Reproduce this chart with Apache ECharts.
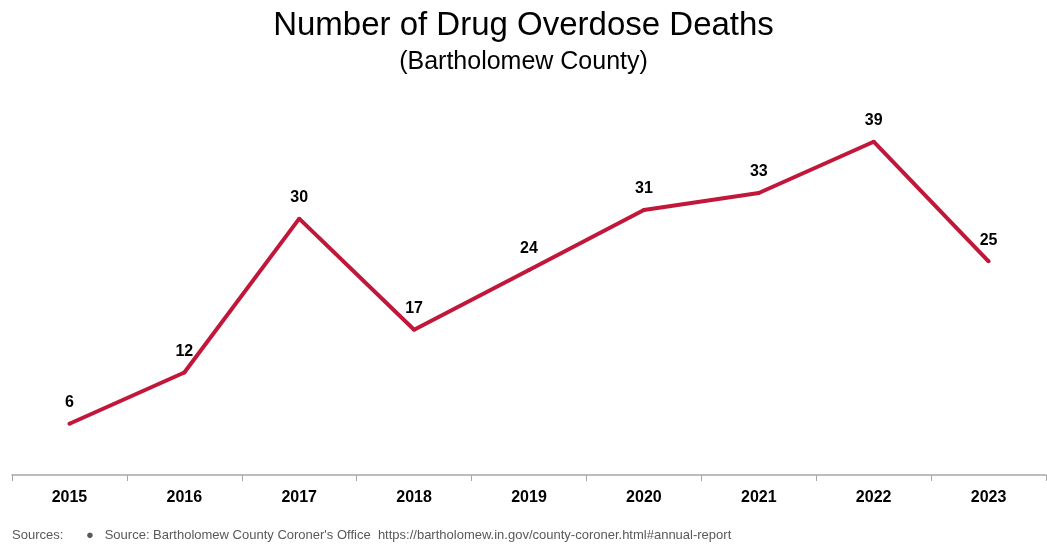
<!DOCTYPE html>
<html>
<head>
<meta charset="utf-8">
<script src="https://cdn.jsdelivr.net/npm/echarts@6/dist/echarts.min.js"></script>
<style>
  html, body { margin: 0; padding: 0; background: #fff; }
  #chart { width: 1047px; height: 548px; }
</style>
</head>
<body>
<div id="chart"></div>
<script>
  const years = ['2015', '2016', '2017', '2018', '2019', '2020', '2021', '2022', '2023'];
  const deaths = [6, 12, 30, 17, 24, 31, 33, 39, 25];

  const font = "'Liberation Sans Narrow', 'Arial Narrow', Arial, sans-serif";
  let chart = echarts.init(document.getElementById('chart'));
  let options = {
    animation: false,
    textStyle: { fontFamily: font },
    title: [
      {
        text: 'Number of Drug Overdose Deaths',
        left: 'center',
        top: 4,
        textStyle: { fontFamily: font, fontSize: 33, fontWeight: 'normal', color: '#000' }
      },
      {
        text: '(Bartholomew County)',
        left: 'center',
        top: 45,
        textStyle: { fontFamily: font, fontSize: 25, fontWeight: 'normal', color: '#000' }
      },
      {
        text: 'Sources:',
        left: 12,
        top: 529,
        padding: 0,
        textStyle: { fontFamily: font, fontSize: 13, fontWeight: 'normal', color: '#595959' }
      },
      {
        text: "●   Source: Bartholomew County Coroner's Office  https://bartholomew.in.gov/county-coroner.html#annual-report",
        left: 86,
        top: 529,
        padding: 0,
        textStyle: { fontFamily: font, fontSize: 13, fontWeight: 'normal', color: '#595959' }
      }
    ],
    grid: {
      left: 12,
      right: 1,
      top: 99,
      bottom: 73,
      containLabel: false
    },
    xAxis: {
      type: 'category',
      data: years,
      boundaryGap: true,
      axisLine: { lineStyle: { color: '#a6a6a6', width: 1.5 } },
      axisTick: { show: true, alignWithLabel: false, length: 6, lineStyle: { color: '#a6a6a6' } },
      axisLabel: { color: '#000', fontWeight: 'bold', fontSize: 16, margin: 15, fontFamily: font }
    },
    yAxis: {
      type: 'value',
      min: 0,
      max: 44,
      show: false,
      splitLine: { show: false }
    },
    series: [
      {
        type: 'line',
        data: deaths,
        symbol: 'circle',
        symbolSize: 4,
        showSymbol: true,
        itemStyle: { color: '#c0173a' },
        lineStyle: { color: '#c0173a', width: 4 },
        label: {
          show: true,
          position: 'top',
          distance: 11,
          color: '#000',
          fontWeight: 'bold',
          fontSize: 16,
          fontFamily: font
        }
      }
    ]
  };
  chart.setOption(options);
</script>
</body>
</html>
